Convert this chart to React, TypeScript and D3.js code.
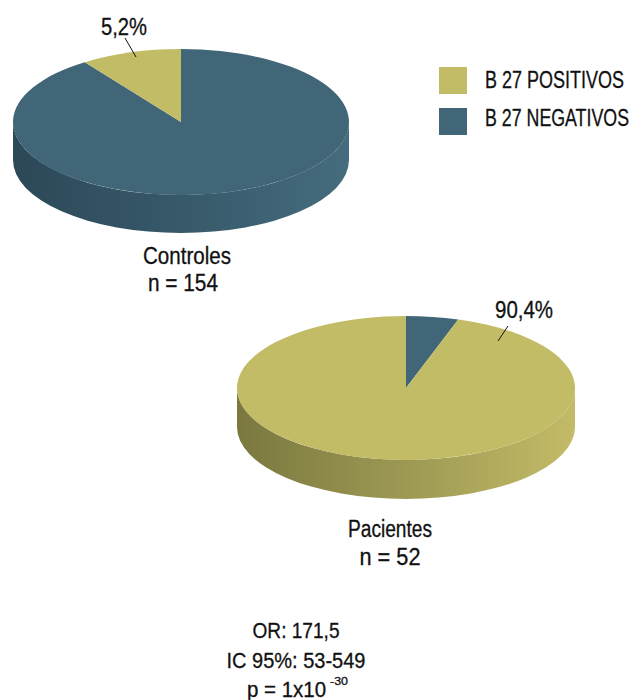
import React from "react";
import * as d3 from "d3";

// ---- data ----
const seriesNames = ["B 27 NEGATIVOS", "B 27 POSITIVOS"];
const seriesColors = ["#416677", "#c3bc67"];
const sideDark = ["#2c4858", "#7a783f"];
const sideMid = ["#37596a", "#9d9954"];
const sideLight = ["#456c7e", "#c3bb67"];
const legendOrder = [1, 0];

const groupNames = ["Controles", "Pacientes"];
const groupN = ["n = 154", "n = 52"];
const groupLabels = ["5,2%", "90,4%"];
// shares as drawn in the picture: [negativos, positivos], clockwise from 12 o'clock
const controlShares = [90.3, 9.7];
const patientShares = [5.0, 95.0];
const statLines = ["OR: 171,5", "IC 95%: 53-549"];
const pValueBase = "p = 1x10";
const pValueExp = "-30";

const FONT = "'Liberation Sans', Arial, sans-serif";

type PieSpec = {
  id: string;
  cx: number;
  cy: number;
  rx: number;
  ry: number;
  depth: number;
  shares: number[];
};

function pt(cx: number, cy: number, rx: number, ry: number, a: number) {
  return [cx + rx * Math.sin(a), cy - ry * Math.cos(a)];
}

function Pie3D({ spec }: { spec: PieSpec }) {
  const { id, cx, cy, rx, ry, depth, shares } = spec;
  const arcs = d3.pie<number>().sort(null).value((d) => d)(shares);
  const sides: any[] = [];
  arcs.forEach((a, i) => {
    const s = Math.max(a.startAngle, Math.PI / 2);
    const e = Math.min(a.endAngle, (3 * Math.PI) / 2);
    if (e <= s) return;
    const [x0, y0] = pt(cx, cy, rx, ry, s);
    const [x1, y1] = pt(cx, cy, rx, ry, e);
    const d =
      `M${x0},${y0} A${rx},${ry} 0 0 1 ${x1},${y1} L${x1},${y1 + depth} ` +
      `A${rx},${ry} 0 0 0 ${x0},${y0 + depth} Z`;
    sides.push(<path key={"s" + i} d={d} fill={`url(#${id}-g${i})`} />);
  });
  const tops = arcs.map((a, i) => {
    const [x0, y0] = pt(cx, cy, rx, ry, a.startAngle);
    const [x1, y1] = pt(cx, cy, rx, ry, a.endAngle);
    const large = a.endAngle - a.startAngle > Math.PI ? 1 : 0;
    const d = `M${cx},${cy} L${x0},${y0} A${rx},${ry} 0 ${large} 1 ${x1},${y1} Z`;
    return <path key={"t" + i} d={d} fill={seriesColors[i]} />;
  });
  return (
    <g>
      <defs>
        {shares.map((_, i) => (
          <linearGradient
            key={i}
            id={`${id}-g${i}`}
            gradientUnits="userSpaceOnUse"
            x1={cx - rx}
            x2={cx + rx}
            y1={0}
            y2={0}
          >
            <stop offset="0" stopColor={sideDark[i]} />
            <stop offset="0.5" stopColor={sideMid[i]} />
            <stop offset="1" stopColor={sideLight[i]} />
          </linearGradient>
        ))}
      </defs>
      {sides}
      {tops}
    </g>
  );
}

function T({
  x,
  y,
  w,
  size = 23,
  anchor = "middle",
  children,
}: {
  x: number;
  y: number;
  w: number;
  size?: number;
  anchor?: string;
  children: any;
}) {
  return (
    <text
      x={x}
      y={y}
      fontSize={size}
      textAnchor={anchor}
      textLength={w}
      lengthAdjust="spacingAndGlyphs"
      fill="#111"
      stroke="#111"
      strokeWidth={0.3}
    >
      {children}
    </text>
  );
}

export default function App() {
  const pies: PieSpec[] = [
    { id: "ctl", cx: 181, cy: 122, rx: 168, ry: 73, depth: 38, shares: controlShares },
    { id: "pac", cx: 406, cy: 388, rx: 169, ry: 72, depth: 39, shares: patientShares },
  ];
  return (
    <svg
      width={634}
      height={700}
      style={{ position: "absolute", left: 0, top: 0, background: "#fff" }}
      fontFamily={FONT}
    >
      <rect width={634} height={700} fill="#fff" />
      {pies.map((p) => (
        <Pie3D key={p.id} spec={p} />
      ))}

      {/* percentage labels with leader lines */}
      <T x={124} y={35} w={46}>{groupLabels[0]}</T>
      <line x1={125} y1={38} x2={136} y2={57} stroke="#111" strokeWidth={1} />
      <T x={524} y={318} w={58}>{groupLabels[1]}</T>
      <line x1={508} y1={326} x2={498} y2={341} stroke="#111" strokeWidth={1} />

      {/* group captions */}
      <T x={187} y={264} w={88}>{groupNames[0]}</T>
      <T x={183} y={291} w={70}>{groupN[0]}</T>
      <T x={390} y={537} w={84}>{groupNames[1]}</T>
      <T x={390} y={565} w={61}>{groupN[1]}</T>

      {/* legend */}
      {legendOrder.map((si, k) => (
        <g key={si}>
          <rect x={439} y={67 + k * 41} width={28} height={27} fill={seriesColors[si]} />
          <T x={485} y={88 + k * 38} w={k === 0 ? 139 : 144} anchor="start">
            {seriesNames[si]}
          </T>
        </g>
      ))}

      {/* statistics */}
      <T x={296} y={638} w={87} size={22}>{statLines[0]}</T>
      <T x={296} y={668} w={139} size={22}>{statLines[1]}</T>
      <T x={247} y={697} w={79} size={22} anchor="start">{pValueBase}</T>
      <T x={330} y={685} w={18} size={11} anchor="start">{pValueExp}</T>
    </svg>
  );
}
